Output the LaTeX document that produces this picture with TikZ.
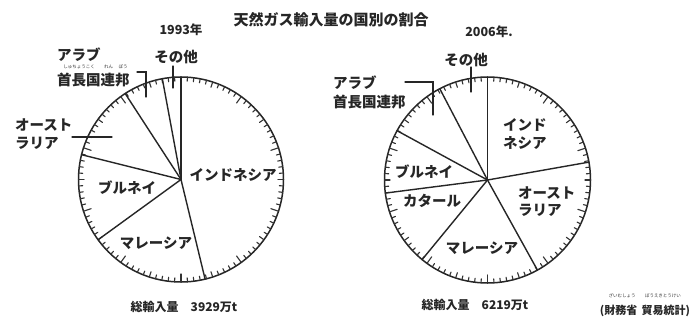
\documentclass[tikz,border=0pt]{standalone}
\usepackage{fontspec}
\newfontfamily\jp{Noto Sans CJK JP}
\usetikzlibrary{calc}
\begin{document}
\begin{tikzpicture}[x=1pt,y=-1pt,line cap=round,
  rim/.style={draw=black!85,line width=1.5pt},
  divider/.style={draw=black!85,line width=1.4pt},
  tickline/.style={draw=black!80,line width=1.1pt},
  pointer/.style={draw=black!85,line width=1.2pt},
  lab/.style={font=\jp\bfseries\fontsize{14.5}{14.5}\selectfont,inner sep=0pt,text=black!85},
  small/.style={font=\jp\bfseries\fontsize{12}{12}\selectfont,inner sep=0pt,text=black!85},
  ruby/.style={font=\jp\fontsize{4.5}{4.5}\selectfont,inner sep=0pt,text=black!80}]
\useasboundingbox (0,0) rectangle (693,327);
\fill[white] (0,0) rectangle (693,327);

% ---------- title ----------
\node[lab,font=\jp\bfseries\fontsize{15}{15}\selectfont] (title) at (331,20) {天然ガス輸入量の国別の割合};

% ---------- left pie (1993) ----------
\coordinate (L) at (181,179.5);
\draw[rim] (L) circle (102.5);
\begin{scope}[shift={(L)}]
  \foreach \i in {0,...,99}{
    \pgfmathsetmacro\a{3.6*\i-90}
    \pgfmathsetmacro\l{mod(\i,10)==0 ? 8 : (mod(\i,5)==0 ? 5.5 : 4)}
    \draw[tickline] (\a:102.5) -- (\a:102.5-\l);
  }
\end{scope}
\foreach \t/\n in {0/a,166.4/b,234/c,284/d,327/e,349.5/f}{
  \coordinate (L\n) at ($(L)+(\t-90:102.5)$);
  \draw[divider] (L) -- (L\n);
}
\node[lab,font=\jp\bfseries\fontsize{12.5}{12.5}\selectfont] (y1) at (181,30) {1993年};
\node[lab] (Lother) at (176,57) {その他};
\node[lab,anchor=west] (Larab1) at (57,55) {アラブ};
\node[lab,anchor=west] (Larab2) at (57,80) {首長国連邦};
\node[ruby] (Lr1) at (79,67) {しゅちょうこく};
\node[ruby] (Lr2) at (108.5,67) {れん};
\node[ruby] (Lr3) at (123,67) {ぽう};
\node[lab,anchor=west] (Laus1) at (15,125) {オースト};
\node[lab,anchor=west] (Laus2) at (15,143) {ラリア};
\node[lab] (Lbru) at (127,188) {ブルネイ};
\node[lab] (Lind) at (233,175) {インドネシア};
\node[lab] (Lmal) at (156,243) {マレーシア};
\node[small] (Ltot) at (184,307) {総輸入量\hspace{1em}3929万t};
% pointers
\coordinate (Lo1) at (173,66); \coordinate (Lo2) at (173,88);
\draw[pointer] (Lo1) -- (Lo2);
\coordinate (Lu1) at (137,72); \coordinate (Lu2) at (146,72); \coordinate (Lu3) at (146,97);
\draw[pointer] (Lu1) -- (Lu2) -- (Lu3);
\coordinate (La1) at (72,137); \coordinate (La2) at (112,137);
\draw[pointer] (La1) -- (La2);

% ---------- right pie (2006) ----------
\coordinate (R) at (487.5,180);
\draw[rim] (R) circle (103);
\begin{scope}[shift={(R)}]
  \foreach \i in {0,...,99}{
    \pgfmathsetmacro\a{3.6*\i-90}
    \pgfmathsetmacro\l{mod(\i,10)==0 ? 8 : (mod(\i,5)==0 ? 5.5 : 4)}
    \draw[tickline] (\a:103) -- (\a:103-\l);
  }
\end{scope}
\foreach \t/\n in {0/a,80/b,151/c,219.4/d,262.7/e,298.6/f,332.4/g}{
  \coordinate (R\n) at ($(R)+(\t-90:103)$);
  \draw[divider] (R) -- (R\n);
}
\node[lab,font=\jp\bfseries\fontsize{12.5}{12.5}\selectfont] (y2) at (489,32) {2006年.};
\node[lab] (Rother) at (466,60) {その他};
\node[lab,anchor=west] (Rarab1) at (333,83) {アラブ};
\node[lab,anchor=west] (Rarab2) at (333,102) {首長国連邦};
\node[lab,anchor=west] (Rind1) at (503,125) {インド};
\node[lab,anchor=west] (Rind2) at (503,143) {ネシア};
\node[lab] (Rbru) at (424,172) {ブルネイ};
\node[lab] (Rqat) at (432,201) {カタール};
\node[lab,anchor=west] (Raus1) at (518,193) {オースト};
\node[lab,anchor=west] (Raus2) at (518,210) {ラリア};
\node[lab] (Rmal) at (482,248) {マレーシア};
\node[small] (Rtot) at (475,305) {総輸入量\hspace{1em}6219万t};
\node[small,font=\jp\bfseries\fontsize{11}{11}\selectfont] (src) at (645,311) {(財務省\hspace{0.4em}貿易統計)};
\node[ruby] (sr1) at (622,296) {ざいむしょう};
\node[ruby] (sr2) at (663,296) {ぼうえきとうけい};
% pointers
\coordinate (Ro1) at (471,67); \coordinate (Ro2) at (471,92);
\draw[pointer] (Ro1) -- (Ro2);
\coordinate (Ru1) at (405,82); \coordinate (Ru2) at (433,82); \coordinate (Ru3) at (433,115);
\draw[pointer] (Ru1) -- (Ru2) -- (Ru3);
\end{tikzpicture}
\end{document}
